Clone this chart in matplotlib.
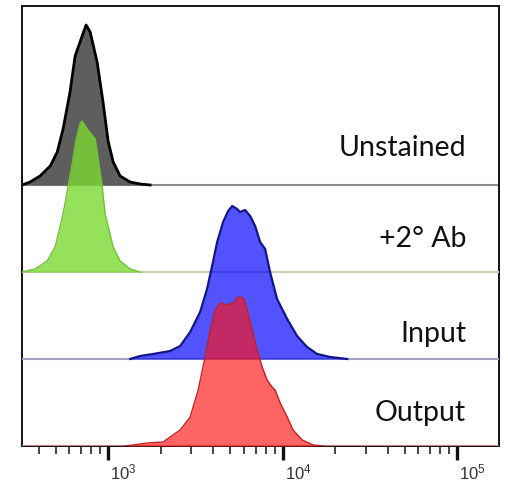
import matplotlib.pyplot as plt
import matplotlib.transforms as mtransforms

# fluorescence intensity (x) and cell count (y)
unstained_x = [321, 357, 407, 466, 511, 552, 605, 647, 710, 748, 789, 865, 935,
               1000, 1069, 1172, 1337, 1524, 1741]
unstained_y = [0, 3, 9, 19, 33, 56, 93, 129, 149, 160, 153, 123, 83,
               44, 23, 9, 3, 1, 0]

ab2_x = [321, 382, 447, 497, 552, 590, 622, 656, 692, 710, 759, 843, 877,
         924, 961, 1069, 1172, 1337, 1524]
ab2_y = [0, 3, 11, 25, 58, 86, 108, 133, 149, 151, 143, 133, 113,
         86, 58, 25, 11, 3, 0]

input_x = [1337, 1524, 1811, 2265, 2588, 2953, 3367, 3690, 3945, 4217, 4561,
           4876, 5143, 5483, 5702, 6095, 6516, 6956, 7435, 7943, 8472, 9290,
           10620, 12110, 13800, 15780, 18710, 23440]
input_y = [0, 3, 5, 8, 13, 27, 47, 70, 93, 117, 137,
           148, 153, 150, 147, 149, 143, 133, 117, 110, 87, 60,
           40, 23, 12, 5, 2, 0]

output_x = [1251, 1390, 1671, 2065, 2265, 2588, 2953, 3282, 3594, 3847, 4105,
            4386, 4808, 5200, 5559, 5943, 6266, 6683, 7145, 7638, 8147, 8710,
            9057, 9683, 10620, 11480, 12950, 14960, 17060]
output_y = [0, 1, 3, 4, 9, 16, 29, 56, 89, 116, 136,
            143, 141, 143, 149, 148, 136, 116, 96, 79, 66, 59,
            56, 43, 29, 16, 6, 1, 0]

labels = ["Unstained", "+2° Ab", "Input", "Output"]
decades = [1e3, 1e4, 1e5]

# style per row: fill, alpha, edge, edge width, baseline colour
styles = [
    ("#5e5e5e", 1.0, "#000000", 2.0, "#8c8c8c"),
    ("#7cda32", 0.8, "#74c038", 1.0, "#c4cfb4"),
    ("#0000ff", 0.68, "#14148a", 1.6, "#a4a4c0"),
    ("#ff1414", 0.66, "#c42020", 1.0, "#c08080"),
]
OFFSET = 87
label_y = [290, 199, 104, 25]

rr = {"mathtext.fontset": "custom", "mathtext.rm": "Liberation Sans"}
plt.rcParams.update(rr)

fig = plt.figure(figsize=(5.08, 4.83), dpi=100)
ax = fig.add_axes([22 / 508, 37 / 483, 477 / 508, 440 / 483])
ax.set_xscale("log")
ax.set_xlim(321, 173800)
ax.set_ylim(0, 440)

data = [(unstained_x, unstained_y), (ab2_x, ab2_y), (input_x, input_y), (output_x, output_y)]
for i, ((xs, ys), (fc, al, ec, lw, bc)) in enumerate(zip(data, styles)):
    off = OFFSET * (3 - i)
    z = 2 + i
    ax.axhline(off, color=bc, lw=1.5, zorder=z)
    ax.fill_between(xs, off, [off + v for v in ys], color=fc, alpha=al, lw=0, zorder=z)
    ax.plot(xs, [off + v for v in ys], color=ec, lw=lw, zorder=z)
    ax.text(0.931, label_y[i], labels[i], transform=ax.get_yaxis_transform(),
            ha="right", va="baseline", fontsize=20.5, family="Lato", color="#111111",
            zorder=10)

for s in ax.spines.values():
    s.set_linewidth(1.4)
    s.set_color("#111111")

ax.set_yticks([])
ax.tick_params(which="major", direction="out", length=10, width=2.4, color="#111111",
               labelbottom=False)
ax.tick_params(which="minor", direction="out", length=5.5, width=1.1, color="#111111",
               labelbottom=False)

lab_tr = mtransforms.offset_copy(ax.get_xaxis_transform(), fig=fig, x=2, y=-17, units="dots")
for d, n in zip(decades, [3, 4, 5]):
    ax.text(d, 0, r"$\mathrm{10^{%d}}$" % n, transform=lab_tr, ha="left", va="top",
            fontsize=12, color="#333333")

fig.savefig("out.png", dpi=100)
